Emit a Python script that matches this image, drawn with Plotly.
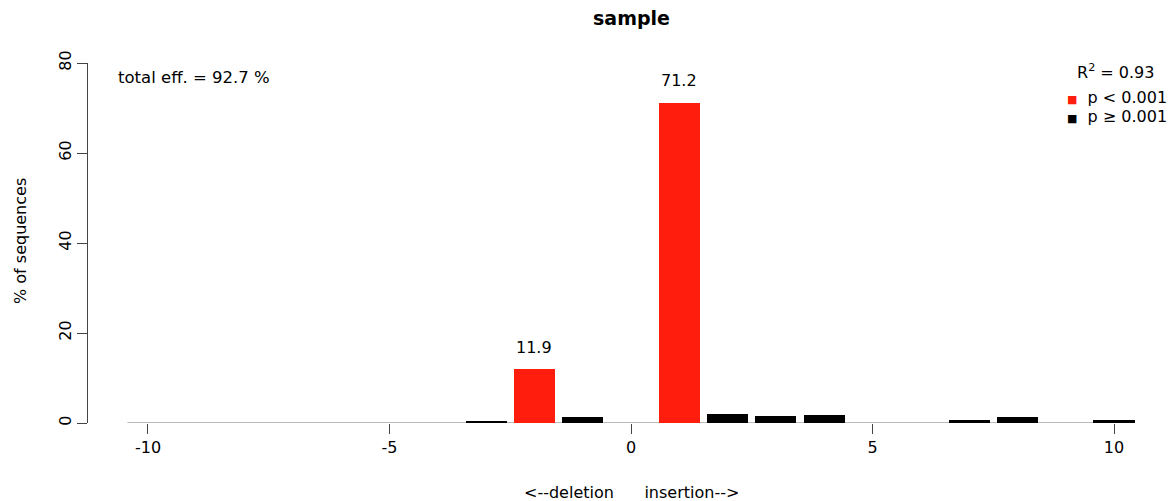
import plotly.graph_objects as go

positions = list(range(-10, 11))
percent = [0, 0, 0, 0, 0, 0, 0, 0.4, 11.9, 1.3, 0, 71.2, 2.1, 1.55, 1.8, 0, 0, 0.75, 1.4, 0, 0.75]
significant = [False]*8 + [True, False, False, True] + [False]*9
labelled = [(-2, 11.9), (1, 71.2)]
x_ticks = [-10, -5, 0, 5, 10]
y_ticks = [0, 20, 40, 60, 80]
title_text = "sample"
total_eff = "total eff. = 92.7 %"
r2_text = "R<sup>2</sup> = 0.93"
x_title = "<--deletion\u00a0\u00a0\u00a0\u00a0\u00a0\u00a0insertion-->"
y_title = "% of sequences"

RED = "#ff1e0e"
BLACK = "#000000"
FONT = "DejaVu Sans"
FS = 16
bar_w = 0.85

W, H = 1171, 501
L, R, T, B = 88, 21, 63, 78
PW, PH = W - L - R, H - T - B

def px(x):
    return (x - L) / PW

def py(y):
    return (H - B - y) / PH

colors = [RED if s else BLACK for s in significant]

fig = go.Figure()
fig.add_trace(go.Bar(x=positions, y=percent, width=bar_w, marker=dict(color=colors, line=dict(width=0)),
                     showlegend=False))

fig.add_shape(type="line", xref="x", yref="y", x0=positions[0]-bar_w/2, x1=positions[-1]+bar_w/2,
              y0=0, y1=0, line=dict(color="#777777", width=1.2), layer="below")

for xv, yv in labelled:
    fig.add_annotation(x=xv, y=yv, text=f"{yv}", showarrow=False, yshift=22,
                       font=dict(family=FONT, size=FS, color="black"))

def txt(x, y, text, xanchor="center", angle=0, size=FS):
    fig.add_annotation(xref="paper", yref="paper", x=px(x), y=py(y), xanchor=xanchor, yanchor="middle",
                       text=text, showarrow=False, textangle=angle,
                       font=dict(family=FONT, size=size, color="black"))

txt(116, 78, total_eff, xanchor="left", size=16.5)
txt(1115, 71, r2_text)
txt(1065, 97, f"<span style='color:{RED};font-size:11px'>■</span>\u00a0\u00a0p &lt; 0.001", xanchor="left")
txt(1065, 116, f"<span style='color:{BLACK};font-size:11px'>■</span>\u00a0\u00a0p ≥ 0.001", xanchor="left")
txt(631, 492, x_title)
txt(20, 241, y_title, angle=-90)
txt(631, 18, "<b>" + title_text + "</b>", size=19)

fig.update_layout(
    width=W, height=H,
    margin=dict(l=L, r=R, t=T, b=B),
    paper_bgcolor="white", plot_bgcolor="white",
    bargap=0,
    xaxis=dict(range=[-11.242, 10.745], tickvals=x_ticks, ticktext=[str(v) for v in x_ticks],
               ticks="outside", ticklen=10, tickcolor="#444", showline=False, showgrid=False,
               zeroline=False, automargin=False, tickfont=dict(family=FONT, size=FS, color="black")),
    yaxis=dict(range=[0, 80], tickvals=y_ticks, ticks="outside", ticklen=10, tickcolor="#444",
               showline=True, linecolor="#444", linewidth=1, showgrid=False, zeroline=False,
               automargin=False, tickangle=-90, tickfont=dict(family=FONT, size=FS, color="black")),
)

fig.write_html("out.html", config={"displayModeBar": False},
               post_script="document.body.style.margin='0';document.body.style.overflow='hidden';")
